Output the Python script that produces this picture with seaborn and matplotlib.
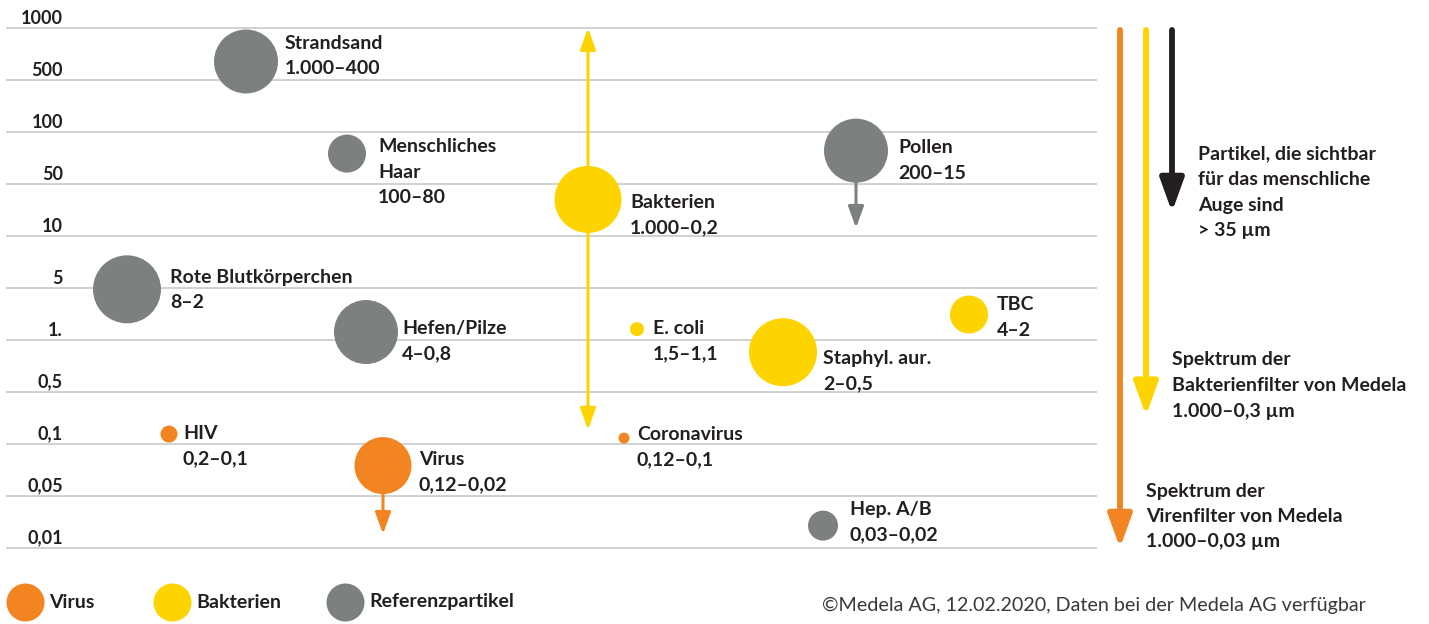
import numpy as np
import pandas as pd
import seaborn as sns
import matplotlib.pyplot as plt

# Partikel und Größenbereiche (µm)
partikel = ['Strandsand', 'Menschliches\nHaar', 'Bakterien', 'Pollen', 'Rote Blutkörperchen',
            'Hefen/Pilze', 'E. coli', 'Staphyl. aur.', 'TBC', 'HIV', 'Coronavirus', 'Virus', 'Hep. A/B']
gruppe = ['Referenzpartikel', 'Referenzpartikel', 'Bakterien', 'Referenzpartikel', 'Referenzpartikel',
          'Referenzpartikel', 'Bakterien', 'Bakterien', 'Bakterien', 'Virus', 'Virus', 'Virus',
          'Referenzpartikel']
bereich = ['1.000–400', '100–80', '1.000–0,2', '200–15', '8–2', '4–0,8', '1,5–1,1', '2–0,5',
           '4–2', '0,2–0,1', '0,12–0,1', '0,12–0,02', '0,03–0,02']
# Lage der Blasen auf der Größenachse (µm)
groesse = [640, 75, 31, 78, 4.8, 1.28, 1.4, 0.85, 2.2, 0.136, 0.12, 0.075, 0.02]

# Achsenstufen
stufen = [0.01, 0.05, 0.1, 0.5, 1, 5, 10, 50, 100, 500, 1000]
stufen_text = ['0,01', '0,05', '0,1', '0,5', '1.', '5', '10', '50', '100', '500', '1000']

# Pfeile an Blasen: (Partikel, von µm, bis µm)
pfeile = [('Bakterien', 1000, 0.155), ('Pollen', 78, 12.8), ('Virus', 0.075, 0.0154)]

# Filter-Spektren rechts
filter_text = ['Spektrum der\nVirenfilter von Medela\n1.000–0,03 µm',
               'Spektrum der\nBakterienfilter von Medela\n1.000–0,3 µm',
               'Partikel, die sichtbar\nfür das menschliche\nAuge sind\n> 35 µm']
filter_bis = [0.01, 0.24, 21]

farben = {'Virus': '#F28522', 'Bakterien': '#FDD300', 'Referenzpartikel': '#7C817F'}
farbe_filter = ['#F28522', '#FDD300', '#231F20']
textfarbe = '#231F20'

# Layout (Pixel): Spalte, Radius, Beschriftungsversatz
spalte = [246, 347, 588, 856, 127, 366, 637, 783, 969, 169, 624, 383, 823]
radius = [32, 19, 33.5, 32, 34, 32, 7, 34, 19, 8.5, 5.5, 28.5, 15]
text_dx = [39, 31, 42, 42, 43, 36, 16, 40, 28, 14, 13, 36, 27]
text_dy = [-18, -7, 3, -3, -12, -4, -1, 6, -10, -1, -4, -6, -16]

PX = 52.0  # Pixel pro Stufe
ZEILE = 25.5


def pos(v):
    return np.interp(np.log10(v), np.log10(stufen), np.arange(len(stufen)))


sns.set_style('white')
plt.rcParams['font.family'] = ['Lato', 'DejaVu Sans']
FS = 14

fig = plt.figure(figsize=(14.29, 6.24), dpi=100)
ax = fig.add_axes([0, 0, 1, 1])
ax.set_xlim(0, 1429)
ax.set_ylim((548 - 624) / PX, 548 / PX)
ax.set_axis_off()

# Gitterlinien + Beschriftung
ax.hlines(np.arange(len(stufen)), 6, 1097, color='#C9C9CB', lw=1.2, zorder=1)
for i, t in enumerate(stufen_text):
    ax.text(63, i + 10 / PX, t, ha='right', va='center', fontsize=13, fontweight='bold', color=textfarbe)

df = pd.DataFrame({'partikel': partikel, 'gruppe': gruppe, 'x': spalte,
                   'y': pos(np.array(groesse)), 'flaeche': [(1.44 * r) ** 2 for r in radius]})

# Pfeile hinter den Blasen
for name, von, bis in pfeile:
    i = partikel.index(name)
    f = farben[gruppe[i]]
    stil = '<|-|>' if name == 'Bakterien' else '-|>'
    ax.annotate('', xy=(spalte[i], pos(bis)), xytext=(spalte[i], pos(von)),
                arrowprops=dict(arrowstyle=stil + ',head_length=13,head_width=4.7', color=f, lw=2.2,
                                shrinkA=0, shrinkB=0, mutation_scale=1), zorder=2)

sns.scatterplot(data=df, x='x', y='y', hue='gruppe', palette=farben, size='flaeche',
                sizes={a: a for a in df['flaeche']}, legend=False, linewidth=0, ax=ax, zorder=3)

# Beschriftungen der Blasen
for i, row in df.iterrows():
    zeilen = row['partikel'].split('\n') + [bereich[i]]
    for k, z in enumerate(zeilen):
        ax.text(row['x'] + text_dx[i], row['y'] - (text_dy[i] + k * ZEILE) / PX, z,
                ha='left', va='center', fontsize=FS, fontweight='bold', color=textfarbe)

# Filter-Pfeile rechts
filter_x = [1120, 1146, 1172]
text_x = [1146, 1172, 1198]
text_y = [491, 360, 154]
for k in range(3):
    ax.annotate('', xy=(filter_x[k], pos(filter_bis[k])), xytext=(filter_x[k], pos(1000) - 2 / PX),
                arrowprops=dict(arrowstyle='-|>,head_length=20,head_width=7.2', color=farbe_filter[k],
                                lw=4.2, shrinkA=0, shrinkB=0, mutation_scale=1), zorder=2)
    for j, z in enumerate(filter_text[k].split('\n')):
        ax.text(text_x[k], (548 - text_y[k] - j * ZEILE) / PX, z, ha='left', va='center',
                fontsize=FS, fontweight='bold', color=textfarbe)

# Legende
leg_y = (548 - 602) / PX
for name, lx, tx in zip(['Virus', 'Bakterien', 'Referenzpartikel'], [25, 172, 345], [49, 196, 369]):
    ax.scatter([lx], [leg_y], s=(1.44 * 19) ** 2, color=farben[name], linewidth=0)
    ax.text(tx, leg_y, name, ha='left', va='center', fontsize=FS, fontweight='bold', color=textfarbe)

ax.text(1366, (548 - 605) / PX, '©Medela AG, 12.02.2020, Daten bei der Medela AG verfügbar',
        ha='right', va='center', fontsize=14.2, fontweight='normal', color='#3A3A3A')

fig.savefig('out.png', dpi=100)
